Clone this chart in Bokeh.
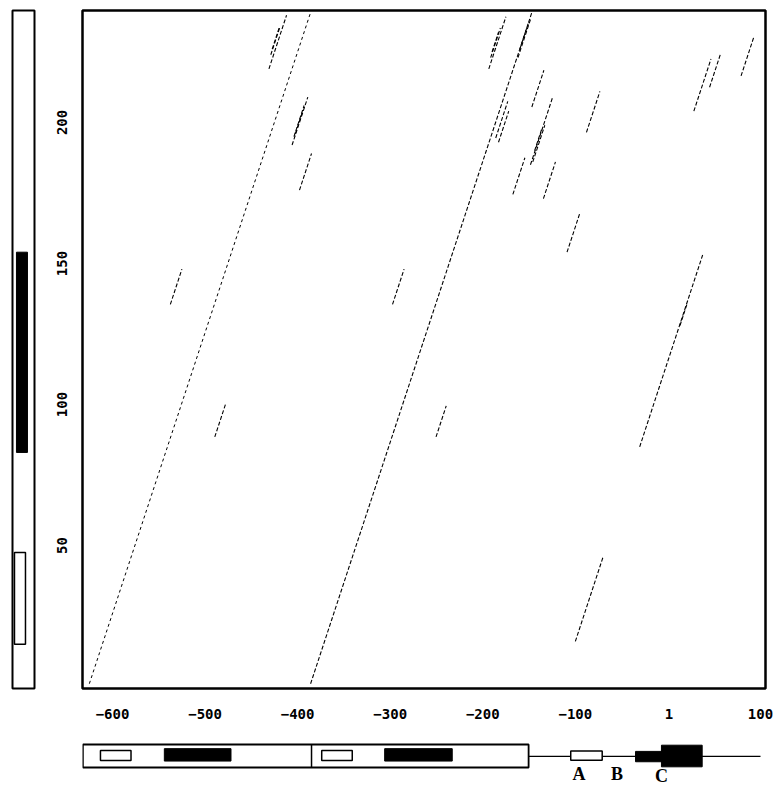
from bokeh.plotting import figure
from bokeh.models import Range1d, FixedTicker, Spacer
from bokeh.layouts import column, row
from bokeh.core.properties import value
from bokeh.embed import file_html
from bokeh.resources import INLINE

# ---------------- data ----------------
x_ticks = [-600, -500, -400, -300, -200, -100, 1, 100]
y_ticks = [50, 100, 150, 200]

# main repeat diagonals (x0, y0, x1, y1)
diag_x0 = [-625, -386]
diag_y0 = [1, 1]
diag_x1 = [-386, -147]
diag_y1 = [239, 239]

# shorter matches (x0, y0, x1, y1), several strands where the dots are dense
seg_x0 = [-431, -429, -427.5, -406, -404, -402.5, -398, -193.5, -191.5, -190,
          -162, -160, -186, -183, -147, -148.5, -146, -144, -167.5, -134.5,
          -88, -109, 28, 45, 79, -30.5, 13, -489.5, -250.5, -537.5, -297.5, -100]
seg_y0 = [219, 224, 226, 192, 195, 196, 176, 219, 223, 225,
          223, 226, 194.5, 193, 205.5, 185, 186, 190, 174.5, 173,
          196.5, 154, 204, 212.5, 216.5, 85, 128, 88.5, 88.5, 135.5, 135.5, 16]
seg_x1 = [-412, -419, -420, -389, -393, -395, -385, -175, -181, -183,
          -148, -151, -173, -172, -134, -124.5, -133, -136, -154.5, -121.5,
          -73.5, -95.5, 46.5, 57, 92.5, 37.5, 21, -478, -239.5, -525, -285, -70]
seg_y1 = [238, 234, 233.5, 209, 206, 203.5, 189, 237.5, 233.5, 232,
          237, 235, 207.5, 204, 218.5, 209, 199, 198, 187.5, 186,
          211, 167.5, 222.5, 224.5, 230, 153, 136, 100, 99.5, 148, 148, 46]

# left sequence map (y extents)
side_black = (83, 154)
side_white = (15, 47.5)

# bottom sequence map (x extents)
box_start, box_div, box_end = -632, -385, -150.5
line_end = 100
white_l = [-613, -374]
white_r = [-580, -341]
black_l = [-544, -306]
black_r = [-472, -233]
a_box = (-105, -71)
c_small = (-35, -7)
c_large = (-7, 37)
lbl_text = ["A", "B", "C"]
lbl_x = [-96, -55, -7]

# ---------------- layout constants ----------------
XR = Range1d(-632.4, 105.4)
YR = Range1d(-0.7, 239.7)
TOP, BOT = 10, 40
H = TOP + 678 + BOT

# ---------------- main dot plot ----------------
p = figure(width=727, height=H, x_range=XR, y_range=YR,
           output_backend="svg", toolbar_location=None,
           min_border_left=34, min_border_right=10,
           min_border_top=TOP, min_border_bottom=BOT)
p.xgrid.visible = False
p.ygrid.visible = False
p.outline_line_color = "black"
p.outline_line_width = 2.5
p.background_fill_color = "white"
p.border_fill_color = "white"

p.xaxis.ticker = FixedTicker(ticks=x_ticks)
p.yaxis.ticker = FixedTicker(ticks=y_ticks)
for ax in (p.xaxis[0], p.yaxis[0]):
    ax.axis_line_color = None
    ax.major_tick_line_color = None
    ax.minor_tick_line_color = None
    ax.major_label_text_font = "DejaVu Sans Mono"
    ax.major_label_text_font_style = "bold"
    ax.major_label_text_font_size = "14px"
    ax.major_label_text_color = "black"
p.xaxis.major_label_standoff = 14
p.yaxis.major_label_standoff = 9
p.yaxis.major_label_orientation = "vertical"

p.segment(x0=diag_x0[:1], y0=diag_y0[:1], x1=diag_x1[:1], y1=diag_y1[:1],
          line_color="black", line_width=1, line_dash="3 3")
p.segment(x0=diag_x0[1:], y0=diag_y0[1:], x1=diag_x1[1:], y1=diag_y1[1:],
          line_color="black", line_width=1.1, line_dash="4 2")
p.segment(x0=seg_x0, y0=seg_y0, x1=seg_x1, y1=seg_y1,
          line_color="black", line_width=1.1, line_dash="4 2")

# ---------------- left sequence map ----------------
s = figure(width=48, height=H, x_range=Range1d(0, 1), y_range=YR,
           output_backend="svg", toolbar_location=None,
           min_border_left=12, min_border_right=14,
           min_border_top=TOP, min_border_bottom=BOT)
s.axis.visible = False
s.grid.visible = False
s.outline_line_color = "black"
s.outline_line_width = 2
s.quad(left=[0.18], right=[0.68], bottom=[side_black[0]], top=[side_black[1]],
       fill_color="black", line_color="black")
s.quad(left=[0.09], right=[0.59], bottom=[side_white[0]], top=[side_white[1]],
       fill_color="white", line_color="black", line_width=1.5)

# ---------------- bottom sequence map ----------------
d = figure(width=727, height=58, x_range=XR, y_range=Range1d(-0.826, 1.696),
           output_backend="svg", toolbar_location=None,
           min_border_left=34, min_border_right=10,
           min_border_top=0, min_border_bottom=0)
d.axis.visible = False
d.grid.visible = False
d.outline_line_color = None
d.segment(x0=[box_end], y0=[0.48], x1=[line_end], y1=[0.48],
          line_color="black", line_width=1.2)
d.quad(left=[box_start], right=[box_end], bottom=[0], top=[1],
       fill_color="white", line_color="black", line_width=1.8)
d.segment(x0=[box_div], y0=[0], x1=[box_div], y1=[1],
          line_color="black", line_width=1.5)
d.quad(left=white_l, right=white_r, bottom=0.3, top=0.74,
       fill_color="white", line_color="black", line_width=1.5)
d.quad(left=black_l, right=black_r, bottom=0.28, top=0.82,
       fill_color="black", line_color="black")
d.quad(left=[a_box[0]], right=[a_box[1]], bottom=[0.32], top=[0.72],
       fill_color="white", line_color="black", line_width=1.5)
d.quad(left=[c_small[0]], right=[c_small[1]], bottom=[0.25], top=[0.7],
       fill_color="black", line_color="black")
d.quad(left=[c_large[0]], right=[c_large[1]], bottom=[0.03], top=[0.97],
       fill_color="black", line_color="black")
d.text(x=lbl_x, y=[-0.72, -0.72, -0.8], text=lbl_text,
       text_font=value("Liberation Serif"), text_font_style="bold",
       text_font_size="18px", text_align="center", text_baseline="bottom",
       text_color="black")

layout = column(row(s, p), row(Spacer(width=48, height=58), d))

open("out.html", "w").write(file_html(layout, INLINE))
